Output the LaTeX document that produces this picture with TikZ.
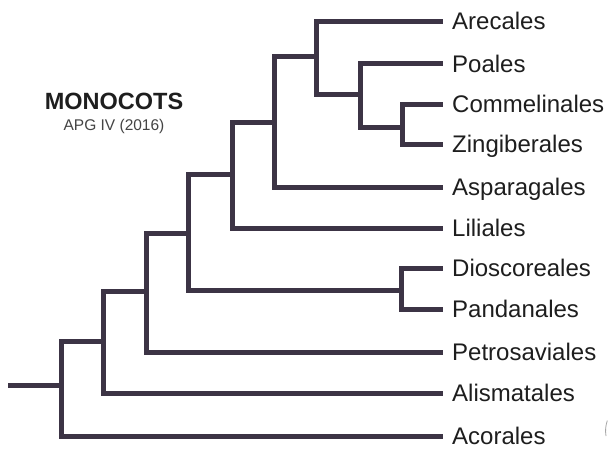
\documentclass[tikz,border=0pt]{standalone}
\usepackage{fontspec}
\setmainfont{Liberation Sans}
\definecolor{branch}{HTML}{3C3445}
\definecolor{txt}{HTML}{1E1E1E}
\definecolor{subtxt}{HTML}{444444}
\begin{document}
\begin{tikzpicture}[x=1pt,y=-1pt,
  branchline/.style={draw=branch,line width=5pt,line join=miter,line cap=butt},
  leaflabel/.style={anchor=base west,inner sep=0pt,text=txt,font=\fontsize{24}{28}\selectfont},
]
\useasboundingbox[fill=white] (0,0) rectangle (610,452);
% tips
\coordinate (tAre) at (443,22);
\coordinate (tPoa) at (443,64);
\coordinate (tCom) at (443,104);
\coordinate (tZin) at (443,144);
\coordinate (tAsp) at (443,187);
\coordinate (tLil) at (443,228);
\coordinate (tDio) at (443,268);
\coordinate (tPan) at (443,309);
\coordinate (tPet) at (443,352);
\coordinate (tAli) at (443,393);
\coordinate (tAco) at (443,436);
% internal nodes
\coordinate (stub) at (8,385);
\coordinate (r0) at (61,385);
\coordinate (n1) at (103,341);
\coordinate (n2) at (146,291);
\coordinate (n3) at (188,233);
\coordinate (nD) at (401,290);
\coordinate (n4) at (232,174);
\coordinate (n5) at (274,122);
\coordinate (n6) at (316,57);
\coordinate (n7) at (360,94);
\coordinate (n8) at (402,127);
% labels
\node[leaflabel] (lAre) at (452,30) {Arecales};
\node[leaflabel] (lPoa) at (452,72) {Poales};
\node[leaflabel] (lCom) at (452,112.5) {Commelinales};
\node[leaflabel] (lZin) at (452,152.5) {Zingiberales};
\node[leaflabel] (lAsp) at (452,195.5) {Asparagales};
\node[leaflabel] (lLil) at (452,236.5) {Liliales};
\node[leaflabel] (lDio) at (452,276.5) {Dioscoreales};
\node[leaflabel] (lPan) at (452,317.5) {Pandanales};
\node[leaflabel] (lPet) at (452,360.5) {Petrosaviales};
\node[leaflabel] (lAli) at (452,401.5) {Alismatales};
\node[leaflabel] (lAco) at (452,444.5) {Acorales};
% branches
\draw[branchline] (stub) -- (r0);
\draw[branchline] (r0) |- (n1);
\draw[branchline] (r0) |- (tAco);
\draw[branchline] (n1) |- (n2);
\draw[branchline] (n1) |- (tAli);
\draw[branchline] (n2) |- (n3);
\draw[branchline] (n2) |- (tPet);
\draw[branchline] (n3) |- (n4);
\draw[branchline] (n3) |- (nD);
\draw[branchline] (nD) |- (tDio);
\draw[branchline] (nD) |- (tPan);
\draw[branchline] (n4) |- (n5);
\draw[branchline] (n4) |- (tLil);
\draw[branchline] (n5) |- (n6);
\draw[branchline] (n5) |- (tAsp);
\draw[branchline] (n6) |- (tAre);
\draw[branchline] (n6) |- (n7);
\draw[branchline] (n7) |- (tPoa);
\draw[branchline] (n7) |- (n8);
\draw[branchline] (n8) |- (tCom);
\draw[branchline] (n8) |- (tZin);
% title
\node[anchor=base,inner sep=0pt,text=txt,font=\fontsize{23.5}{28}\bfseries\selectfont] (title) at (114,109) {MONOCOTS};
\node[anchor=base,inner sep=0pt,text=subtxt,font=\fontsize{15.5}{18}\selectfont] (subtitle) at (114,130) {APG IV (2016)};
% partial mark at bottom right
\draw[gray!70,line width=0.8pt] (606,436) arc[start angle=170,end angle=200,radius=30];
\end{tikzpicture}
\end{document}
